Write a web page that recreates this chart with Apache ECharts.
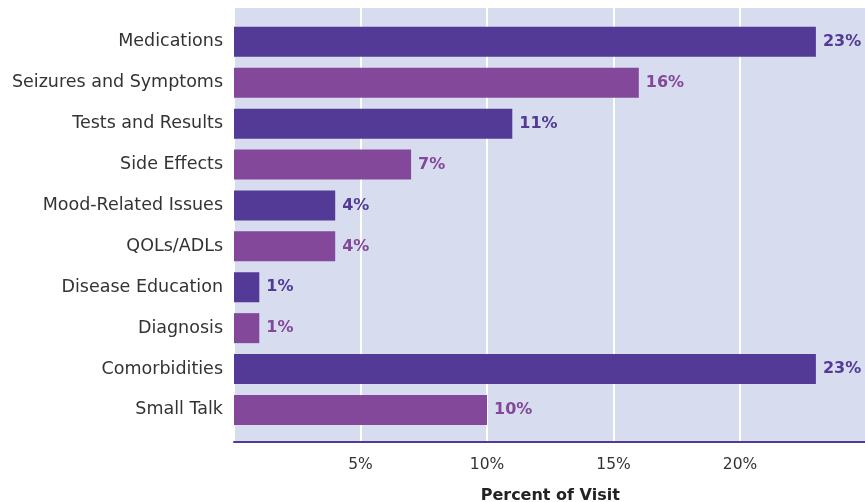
<!DOCTYPE html>
<html><head><meta charset="utf-8">
<script src="https://cdn.jsdelivr.net/npm/echarts@6/dist/echarts.min.js"></script>
<style>html,body{margin:0;padding:0;background:#fff}#c{width:865px;height:502px}</style>
</head><body><div id="c"></div>
<script>
const categories = ['Medications','Seizures and Symptoms','Tests and Results','Side Effects','Mood-Related Issues','QOLs/ADLs','Disease Education','Diagnosis','Comorbidities','Small Talk'];
const values = [23,16,11,7,4,4,1,1,23,10];
const tickLabels = {5:'5%',10:'10%',15:'15%',20:'20%'};
const colors = ['#523a96','#83489a'];
const FONT = '"DejaVu Sans", sans-serif';
const chart = echarts.init(document.getElementById('c'));
chart.setOption({
  animation:false,
  grid:[
    {left:234, width:632.5, top:8, height:434, show:true, backgroundColor:'#d7dcee', borderWidth:0, outerBoundsMode:'none', containLabel:false},
    {left:234, width:632.5, top:21.4, height:409, outerBoundsMode:'none', containLabel:false}
  ],
  xAxis:[
    {gridIndex:0, type:'value', min:0, max:25, interval:5,
     axisLine:{show:true, onZero:false, lineStyle:{color:'#523a96', width:2}},
     axisTick:{show:false},
     splitLine:{show:true, lineStyle:{color:'#ffffff', width:2}},
     axisLabel:{margin:15, fontSize:15.5, color:'#333', fontFamily:FONT, formatter:v=>tickLabels[v]||''},
     name:'Percent of Visit', nameLocation:'middle', nameGap:46,
     nameTextStyle:{fontSize:16, fontWeight:'bold', color:'#222', fontFamily:FONT}},
    {gridIndex:1, type:'value', min:0, max:25, show:false}
  ],
  yAxis:[
    {gridIndex:0, type:'value', show:false},
    {gridIndex:1, type:'category', data:categories, inverse:true,
     axisLine:{show:false}, axisTick:{show:false},
     axisLabel:{margin:11, fontSize:17.5, color:'#333', fontFamily:FONT}}
  ],
  series:[{
    type:'bar', xAxisIndex:1, yAxisIndex:1, barWidth:30,
    data: values.map((v,i)=>({value:v, itemStyle:{color:colors[i%2]}, label:{color:colors[i%2]}})),
    label:{show:true, position:'right', distance:7, fontSize:16, fontWeight:'bold', fontFamily:FONT, formatter:'{c}%'}
  }]
});
</script></body></html>
